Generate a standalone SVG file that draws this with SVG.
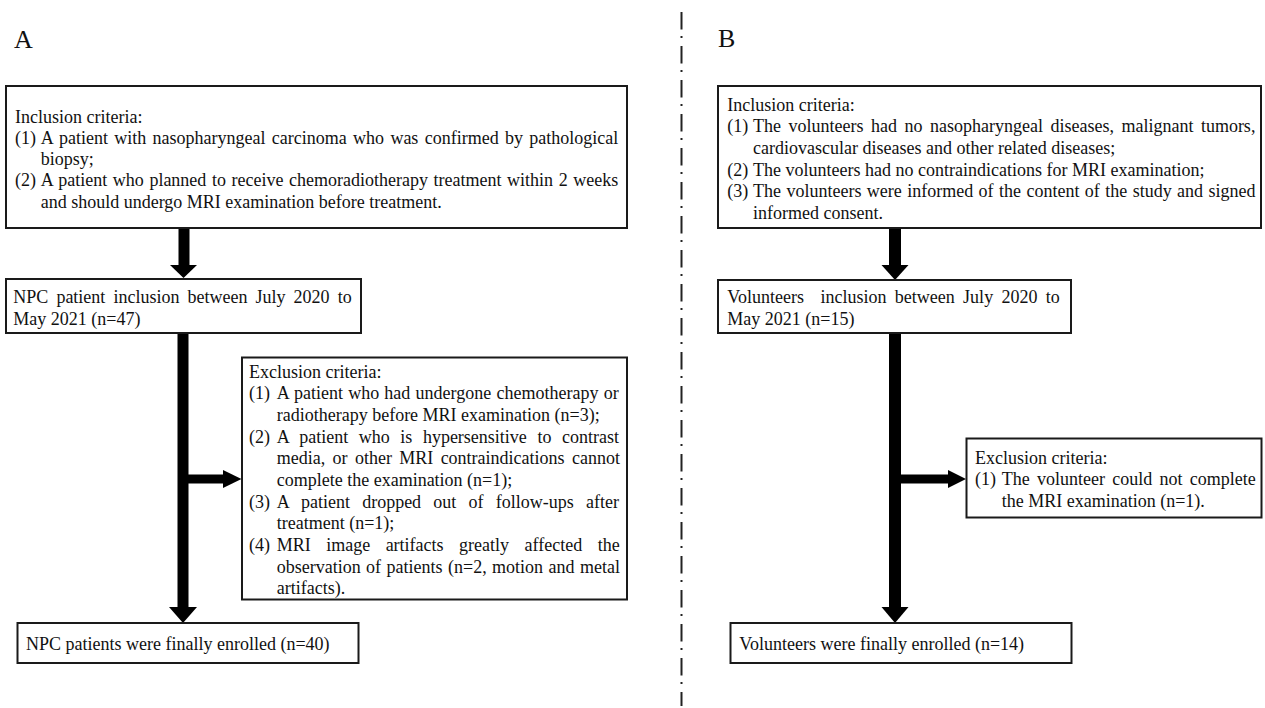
<svg xmlns="http://www.w3.org/2000/svg" width="1265" height="708" viewBox="0 0 1265 708">
<style>
text{font-family:"Liberation Serif","Times New Roman",serif;font-size:18px;fill:#111}
.lbl{font-size:26px}
.box{fill:#fff;stroke:#1a1a1a;stroke-width:2}
.arr{fill:#000}
</style>
<rect width="1265" height="708" fill="#fff"/>
<line x1="681.5" y1="12" x2="681.5" y2="706" stroke="#222" stroke-width="2" stroke-dasharray="17.5 6.5 2 8"/>
<text class="lbl" x="14" y="48">A</text>
<text class="lbl" x="718" y="47">B</text>

<g id="connectors">
<rect class="arr" x="178.5" y="228" width="11" height="38"/>
<polygon class="arr" points="170,265 197,265 183.5,278"/>
<rect class="arr" x="177.5" y="333" width="11" height="275"/>
<polygon class="arr" points="169,607 197,607 183,623"/>
<rect class="arr" x="188" y="474.5" width="36" height="9"/>
<polygon class="arr" points="223,470 223,488 241.5,479"/>
<rect class="arr" x="889" y="228" width="12" height="38"/>
<polygon class="arr" points="881.5,265 908.5,265 895,280"/>
<rect class="arr" x="889" y="332" width="12" height="276"/>
<polygon class="arr" points="881.5,607 908.5,607 895,623"/>
<rect class="arr" x="901" y="474.5" width="48" height="9"/>
<polygon class="arr" points="948,470 948,488 966,479"/>
</g>

<g id="a-inclusion">
<rect class="box" x="6" y="86" width="621" height="142"/>
<text x="15" y="122.5">Inclusion criteria:</text>
<text x="15" y="143.8">(1)</text>
<text x="40.7" y="143.8" word-spacing="1.8">A patient with nasopharyngeal carcinoma who was confirmed by pathological</text>
<text x="40.7" y="165.1">biopsy;</text>
<text x="15" y="186.4">(2)</text>
<text x="40.7" y="186.4" word-spacing="1.07">A patient who planned to receive chemoradiotherapy treatment within 2 weeks</text>
<text x="40.7" y="207.7">and should undergo MRI examination before treatment.</text>
</g>

<g id="a-npc">
<rect class="box" x="6" y="279" width="355" height="54"/>
<text x="13.3" y="303" word-spacing="3.57">NPC patient inclusion between July 2020 to</text>
<text x="13.3" y="325">May 2021 (n=47)</text>
</g>

<g id="a-exclusion">
<rect class="box" x="242" y="357.5" width="385" height="242"/>
<text x="249" y="377.5">Exclusion criteria:</text>
<text x="249" y="399.2">(1)</text>
<text x="276.7" y="399.2" word-spacing="0.73">A patient who had undergone chemotherapy or</text>
<text x="276.7" y="420.8">radiotherapy before MRI examination (n=3);</text>
<text x="249" y="442.5">(2)</text>
<text x="276.7" y="442.5" word-spacing="6.05">A patient who is hypersensitive to contrast</text>
<text x="276.7" y="464.2" word-spacing="2.87">media, or other MRI contraindications cannot</text>
<text x="276.7" y="485.8">complete the examination (n=1);</text>
<text x="249" y="507.5">(3)</text>
<text x="276.7" y="507.5" word-spacing="7.73">A patient dropped out of follow-ups after</text>
<text x="276.7" y="529.2">treatment (n=1);</text>
<text x="249" y="550.8">(4)</text>
<text x="276.7" y="550.8" word-spacing="10.98">MRI image artifacts greatly affected the</text>
<text x="276.7" y="572.5" word-spacing="0.95">observation of patients (n=2, motion and metal</text>
<text x="276.7" y="594.2">artifacts).</text>
</g>

<g id="a-final">
<rect class="box" x="17.5" y="623" width="341" height="40"/>
<text x="26" y="649.5">NPC patients were finally enrolled (n=40)</text>
</g>

<g id="b-inclusion">
<rect class="box" x="718" y="86" width="543" height="142"/>
<text x="727.3" y="110.5">Inclusion criteria:</text>
<text x="727.3" y="132.2">(1)</text>
<text x="753" y="132.2" word-spacing="3.0">The volunteers had no nasopharyngeal diseases, malignant tumors,</text>
<text x="753" y="153.8">cardiovascular diseases and other related diseases;</text>
<text x="727.3" y="175.5">(2)</text>
<text x="753" y="175.5">The volunteers had no contraindications for MRI examination;</text>
<text x="727.3" y="197.2">(3)</text>
<text x="753" y="197.2" word-spacing="0.92">The volunteers were informed of the content of the study and signed</text>
<text x="753" y="218.8">informed consent.</text>
</g>

<g id="b-volunteers">
<rect class="box" x="718" y="280" width="353" height="53"/>
<text x="727.3" y="303" word-spacing="3.8" style="white-space:pre">Volunteers  inclusion between July 2020 to</text>
<text x="727.3" y="325">May 2021 (n=15)</text>
</g>

<g id="b-exclusion">
<rect class="box" x="966.5" y="438.5" width="295" height="79"/>
<text x="975" y="463.5">Exclusion criteria:</text>
<text x="975" y="485">(1)</text>
<text x="1001.7" y="485" word-spacing="2.8">The volunteer could not complete</text>
<text x="1001.7" y="506.5">the MRI examination (n=1).</text>
</g>

<g id="b-final">
<rect class="box" x="730.5" y="623" width="341" height="40"/>
<text x="739.3" y="649.5">Volunteers were finally enrolled (n=14)</text>
</g>
</svg>
